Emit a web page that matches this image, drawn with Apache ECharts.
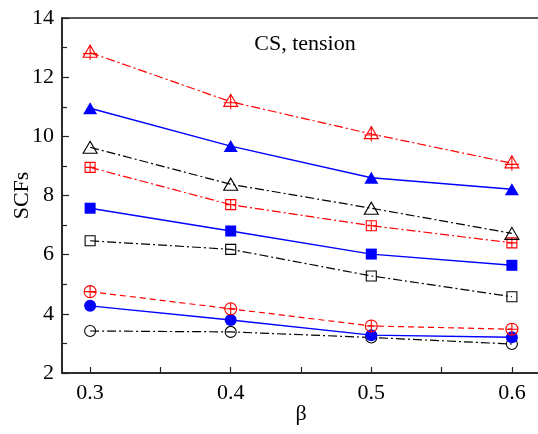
<!DOCTYPE html>
<html>
<head>
<meta charset="utf-8">
<script src="https://cdn.jsdelivr.net/npm/echarts@6/dist/echarts.min.js"></script>
<style>
  html, body { margin: 0; padding: 0; background: #fff; }
  #chart { width: 538px; height: 434px; }
</style>
</head>
<body>
<div id="chart"></div>
<script>
// β values on the horizontal axis
const betaValues = [0.3, 0.4, 0.5, 0.6];
const xLabelValues = [0.3, 0.4, 0.5, 0.6];
const xTickValues = [0.3, 0.35, 0.4, 0.45, 0.5, 0.55, 0.6];

// SCF values per curve
const redTriCross   = [12.83, 11.17, 10.08, 9.09];
const blueTriangle  = [10.95, 9.67, 8.60, 8.21];
const blackTriangle = [9.63, 8.38, 7.57, 6.72];
const redSqCross    = [8.95, 7.69, 6.98, 6.40];
const blueSquare    = [7.57, 6.80, 6.02, 5.64];
const blackSquare   = [6.47, 6.18, 5.28, 4.58];
const redCircCross  = [4.75, 4.17, 3.59, 3.48];
const blueCircle    = [4.27, 3.79, 3.28, 3.21];
const blackCircle   = [3.42, 3.39, 3.20, 2.98];

const FONT = '"Liberation Serif", "DejaVu Serif", serif';
const RED = '#ff0000', BLUE = '#0000ff', BLACK = '#000000';
const DASH_DOT = [9, 3, 2, 3];
const DASHED = [6, 4];

// marker outlines: open shapes with a "+" drawn through them
const TRI_CROSS = 'path://M10 0 L20 17 L0 17 Z M10 0 L10 21 M0 12 L20 12';
const SQ_CROSS = 'path://M0 0 L20 0 L20 20 L0 20 Z M10 0 L10 20 M0 10 L20 10';
const CIRC_CROSS = 'path://M20 10 A10 10 0 1 1 0 10 A10 10 0 1 1 20 10 Z M10 0 L10 20 M0 10 L20 10';

function pairs(vals) {
  return betaValues.map((b, i) => [b, vals[i]]);
}

function curve(vals, color, dash, symbol, size, filled, width) {
  return {
    type: 'line',
    data: pairs(vals),
    symbol: symbol,
    symbolSize: size,
    showAllSymbol: true,
    lineStyle: { color: color, width: width || 1.3, type: dash },
    itemStyle: filled
      ? { color: color, borderColor: color, borderWidth: 0 }
      : { color: 'rgba(255,255,255,0)', borderColor: color, borderWidth: 1.1 },
    emphasis: { disabled: true }
  };
}

const chart = echarts.init(document.getElementById('chart'), null, { renderer: 'canvas' });

chart.setOption({
  animation: false,
  backgroundColor: '#ffffff',
  title: {
    text: 'CS, tension',
    left: 300,
    top: 28,
    textAlign: 'center',
    textStyle: { fontFamily: FONT, fontSize: 22, fontWeight: 'normal', color: '#000' }
  },
  grid: {
    left: 62, top: 18, width: 478, height: 355,
    outerBoundsMode: 'none',
    containLabel: false,
    show: true, borderColor: '#222', borderWidth: 1.6, backgroundColor: 'transparent'
  },
  xAxis: {
    type: 'value',
    min: 0.28,
    max: 0.62,
    name: 'β',
    nameLocation: 'middle',
    nameGap: 30,
    nameMoveOverlap: false,
    nameTextStyle: { fontFamily: FONT, fontSize: 22, color: '#000', verticalAlign: 'top' },
    axisLine: { show: true, onZero: false, lineStyle: { color: '#222', width: 1.6 } },
    axisTick: { show: true, inside: true, length: 6, customValues: xTickValues, lineStyle: { color: '#222', width: 1.2 } },
    axisLabel: {
      customValues: xLabelValues,
      margin: 9,
      fontFamily: FONT, fontSize: 22, color: '#000',
      formatter: v => v.toFixed(1)
    },
    splitLine: { show: false }
  },
  yAxis: {
    type: 'value',
    min: 2,
    max: 14,
    interval: 2,
    name: 'SCFs',
    nameLocation: 'middle',
    nameGap: 29,
    nameMoveOverlap: false,
    nameTextStyle: { fontFamily: FONT, fontSize: 22, color: '#000' },
    axisLine: { show: true, onZero: false, lineStyle: { color: '#222', width: 1.6 } },
    axisTick: { show: true, inside: true, length: 7, lineStyle: { color: '#222', width: 1.2 } },
    minorTick: { show: true, splitNumber: 2, length: 5, lineStyle: { color: '#222', width: 1.2 } },
    axisLabel: { margin: 8, fontFamily: FONT, fontSize: 22, color: '#000' },
    splitLine: { show: false },
    minorSplitLine: { show: false }
  },
  series: [
    curve(blackCircle, BLACK, DASH_DOT, 'circle', 11, false, 1.2),
    curve(blueCircle, BLUE, 'solid', 'circle', 12, true, 1.4),
    curve(redCircCross, RED, DASHED, CIRC_CROSS, 12, false, 1.2),
    curve(blackSquare, BLACK, DASH_DOT, 'rect', 10, false, 1.2),
    curve(blueSquare, BLUE, 'solid', 'rect', 11, true, 1.4),
    curve(redSqCross, RED, DASH_DOT, SQ_CROSS, 10, false, 1.2),
    curve(blackTriangle, BLACK, DASH_DOT, 'triangle', [14, 12], false, 1.2),
    curve(blueTriangle, BLUE, 'solid', 'triangle', [14, 12], true, 1.4),
    curve(redTriCross, RED, DASH_DOT, TRI_CROSS, [14, 15], false, 1.2)
  ]
});
</script>
</body>
</html>
